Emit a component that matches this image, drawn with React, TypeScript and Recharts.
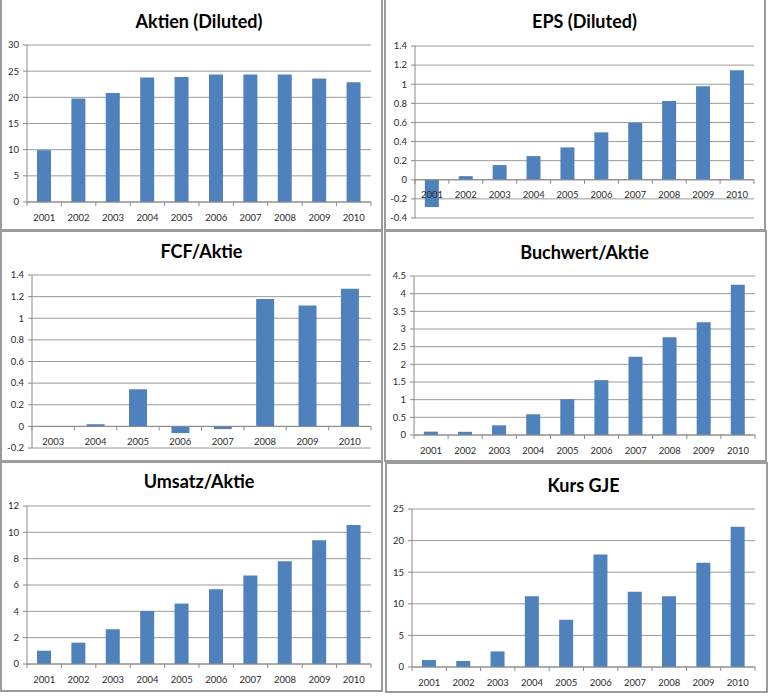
import React from 'react';
import {
  BarChart,
  Bar,
  XAxis,
  YAxis,
  CartesianGrid,
  ReferenceLine,
} from 'recharts';

// Jahre (Kategorien)
const YEARS = ['2001', '2002', '2003', '2004', '2005', '2006', '2007', '2008', '2009', '2010'];
const FCF_YEARS = ['2003', '2004', '2005', '2006', '2007', '2008', '2009', '2010'];

// Werte je Kennzahl
const AKTIEN = [9.9, 19.8, 20.85, 23.8, 23.9, 24.35, 24.35, 24.35, 23.6, 22.9];
const EPS = [-0.285, 0.038, 0.154, 0.248, 0.339, 0.496, 0.597, 0.824, 0.978, 1.145];
const FCF = [0, 0.02, 0.343, -0.062, -0.025, 1.177, 1.119, 1.273];
const BUCHWERT = [0.095, 0.09, 0.275, 0.587, 1.013, 1.553, 2.216, 2.765, 3.19, 4.25];
const UMSATZ = [1.01, 1.62, 2.64, 4.03, 4.59, 5.68, 6.72, 7.81, 9.39, 10.55];
const KURS = [1.1, 0.95, 2.47, 11.2, 7.47, 17.8, 11.9, 11.2, 16.5, 22.2];

// Achsenbeschriftungen
const TICKS_AKTIEN = [0, 5, 10, 15, 20, 25, 30];
const TICKS_EPS = [-0.4, -0.2, 0, 0.2, 0.4, 0.6, 0.8, 1, 1.2, 1.4];
const TICKS_FCF = [-0.2, 0, 0.2, 0.4, 0.6, 0.8, 1, 1.2, 1.4];
const TICKS_BUCHWERT = [0, 0.5, 1, 1.5, 2, 2.5, 3, 3.5, 4, 4.5];
const TICKS_UMSATZ = [0, 2, 4, 6, 8, 10, 12];
const TICKS_KURS = [0, 5, 10, 15, 20, 25];

const BAR = '#4F81BD';
const GRID = '#9a9a9a';
const AXIS = '#8a8a8a';
const TEXT = '#2b2b2b';
const FONT = 'Lato, "Noto Sans", sans-serif';

const toRows = (years: string[], values: number[]) =>
  years.map((year, i) => ({ year, value: values[i] }));

type Box = { x: number; y: number; w: number; h: number };
type Plot = { l: number; r: number; t: number; b: number };

interface PanelProps {
  title: string;
  years: string[];
  values: number[];
  ticks: number[];
  box: Box;
  plot: Plot;
  titleY: number;
}

// x labels sit under the zero line, tick marks between categories (Excel style)
const YearTick = (props: any) => {
  const { x, y, payload, index, shift, band, last } = props;
  const zy = y - shift;
  return (
    <g>
      <line x1={x - band / 2} x2={x - band / 2} y1={zy} y2={zy + 4} stroke={AXIS} />
      {index === last && (
        <line x1={x + band / 2} x2={x + band / 2} y1={zy} y2={zy + 4} stroke={AXIS} />
      )}
      <text
        x={x}
        y={zy + 15}
        textAnchor="middle"
        dominantBaseline="central"
        fontSize={9.5}
        fontFamily={FONT}
        fill={TEXT}
      >
        {payload.value}
      </text>
    </g>
  );
};

const fmt = (v: number) => String(Math.round(v * 10) / 10);

const Panel = ({ title, years, values, ticks, box, plot, titleY }: PanelProps) => {
  const data = toRows(years, values);
  const min = ticks[0];
  const max = ticks[ticks.length - 1];
  const svgLeft = box.x + 2;
  const svgTop = box.y + 2;
  const width = plot.r + 12 - svgLeft;
  const height = plot.b + 30 - svgTop;
  const plotH = plot.b - plot.t;
  const shift = (plotH * (0 - min)) / (max - min);
  const band = (plot.r - plot.l) / years.length;

  return (
    <>
      <div
        style={{
          position: 'absolute',
          left: box.x,
          top: box.y,
          width: box.w,
          height: box.h,
          boxSizing: 'border-box',
          border: '2px solid #9b9b9b',
          background: '#fff',
        }}
      />
      <div
        style={{
          position: 'absolute',
          left: (plot.l + plot.r) / 2 - 150,
          top: titleY - 11,
          width: 300,
          lineHeight: '22px',
          textAlign: 'center',
          fontFamily: FONT,
          fontWeight: 700,
          fontSize: 18,
          color: '#000',
        }}
      >
        {title}
      </div>
      <div style={{ position: 'absolute', left: svgLeft, top: svgTop }}>
        <BarChart
          width={width}
          height={height}
          data={data}
          margin={{ top: plot.t - svgTop, right: 12, bottom: 10, left: 0 }}
          barCategoryGap="29%"
        >
          <CartesianGrid vertical={false} stroke={GRID} />
          <XAxis
            dataKey="year"
            height={20}
            axisLine={false}
            tickLine={false}
            tickSize={0}
            tickMargin={0}
            interval={0}
            tick={<YearTick shift={shift} band={band} last={years.length - 1} />}
          />
          <YAxis
            type="number"
            width={plot.l - svgLeft}
            domain={[min, max]}
            ticks={ticks}
            interval={0}
            tickFormatter={fmt}
            axisLine={{ stroke: AXIS }}
            tickLine={{ stroke: AXIS }}
            tickSize={4}
            tickMargin={4}
            tick={{ fontSize: 9.5, fontFamily: FONT, fill: TEXT }}
          />
          <ReferenceLine y={0} stroke={AXIS} />
          <Bar dataKey="value" fill={BAR} isAnimationActive={false} />
        </BarChart>
      </div>
    </>
  );
};

export default function App() {
  return (
    <div
      style={{
        position: 'absolute',
        left: 0,
        top: 0,
        width: 770,
        height: 697,
        background: '#fff',
        overflow: 'hidden',
      }}
    >
      <Panel
        title="Aktien (Diluted)"
        years={YEARS}
        values={AKTIEN}
        ticks={TICKS_AKTIEN}
        box={{ x: 0, y: -2, w: 383, h: 233 }}
        plot={{ l: 27, r: 371, t: 45, b: 202 }}
        titleY={21}
      />
      <Panel
        title="EPS (Diluted)"
        years={YEARS}
        values={EPS}
        ticks={TICKS_EPS}
        box={{ x: 384, y: -2, w: 382, h: 233 }}
        plot={{ l: 415, r: 754, t: 46, b: 218 }}
        titleY={21}
      />
      <Panel
        title="FCF/Aktie"
        years={FCF_YEARS}
        values={FCF}
        ticks={TICKS_FCF}
        box={{ x: 0, y: 230, w: 383, h: 232 }}
        plot={{ l: 32, r: 371, t: 275, b: 448 }}
        titleY={251}
      />
      <Panel
        title="Buchwert/Aktie"
        years={YEARS}
        values={BUCHWERT}
        ticks={TICKS_BUCHWERT}
        box={{ x: 384, y: 230, w: 383, h: 232 }}
        plot={{ l: 414, r: 755, t: 276, b: 435 }}
        titleY={252}
      />
      <Panel
        title="Umsatz/Aktie"
        years={YEARS}
        values={UMSATZ}
        ticks={TICKS_UMSATZ}
        box={{ x: 0, y: 461, w: 383, h: 231 }}
        plot={{ l: 27, r: 371, t: 506, b: 664 }}
        titleY={481}
      />
      <Panel
        title="Kurs GJE"
        years={YEARS}
        values={KURS}
        ticks={TICKS_KURS}
        box={{ x: 385, y: 462, w: 383, h: 231 }}
        plot={{ l: 412, r: 755, t: 509, b: 667 }}
        titleY={485}
      />
    </div>
  );
}
